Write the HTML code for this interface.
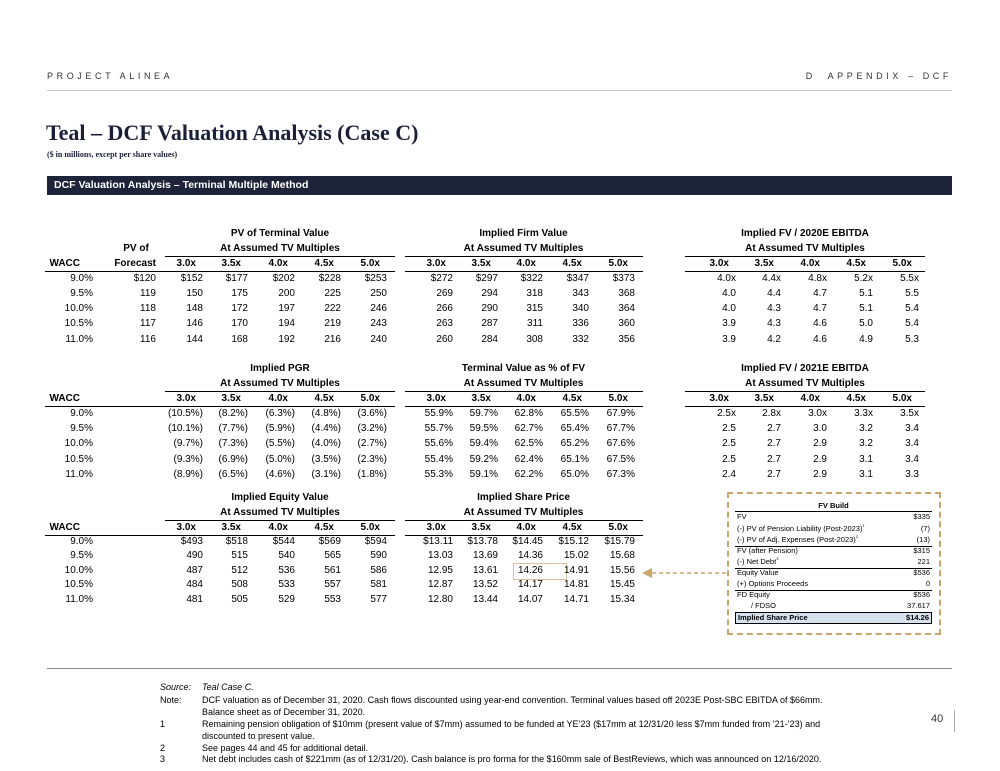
<!DOCTYPE html>
<html><head><meta charset="utf-8">
<style>
*{margin:0;padding:0;box-sizing:border-box}
body{width:1000px;height:771px;background:#fff;position:relative;overflow:hidden;font-family:"Liberation Sans",Arial,sans-serif;color:#000}
.abs{position:absolute}
.r{position:absolute;left:0;width:1000px;height:12px;font-size:10px;line-height:12px}
.r span{position:absolute;text-align:right;white-space:nowrap}
.h span{font-weight:bold;padding-right:7px}
.a{right:907px}.b{right:844px}
.c1{right:797px}.c2{right:752px}.c3{right:705px}.c4{right:659px}.c5{right:613px}
.d1{right:547px}.d2{right:502px}.d3{right:457px}.d4{right:411px}.d5{right:365px}
.e1{right:264px}.e2{right:219px}.e3{right:173px}.e4{right:127px}.e5{right:81px}
.t{position:absolute;font-size:10px;font-weight:bold;line-height:12px;text-align:center;white-space:nowrap}
.ln{position:absolute;height:1px;background:#000}
.fb{position:absolute;left:735px;width:197px;font-size:7.5px;line-height:10px;height:10px}
.fb i{font-style:normal;position:absolute;right:2px;top:0}
.fb b{font-weight:normal;position:absolute;left:2px;top:0;white-space:nowrap}
sup{font-size:4px;line-height:0;vertical-align:4px}
.nt{position:absolute;font-size:9px;line-height:11px;white-space:nowrap}
</style></head><body>
<div class="abs" style="left:47px;top:71px;font-size:9px;letter-spacing:3.6px;color:#333">PROJECT ALINEA</div>
<div class="abs" style="right:48px;top:71px;font-size:9px;letter-spacing:3.6px;color:#333">D&nbsp; APPENDIX – DCF</div>
<div class="abs" style="left:47px;top:90px;width:905px;height:1px;background:#c8c8c8"></div>
<div class="abs" style="left:46px;top:120px;font-family:'Liberation Serif',serif;font-weight:bold;font-size:22px;color:#1b2038">Teal – DCF Valuation Analysis (Case C)</div>
<div class="abs" style="left:47px;top:150px;font-family:'Liberation Serif',serif;font-weight:bold;font-size:8px;color:#1b2038">($ in millions, except per share values)</div>
<div class="abs" style="left:47px;top:176px;width:905px;height:19px;background:#1d2338;color:#fff;font-weight:bold;font-size:10.5px;line-height:19px;padding-left:7px">DCF Valuation Analysis – Terminal Multiple Method</div>

<!-- Section 1 -->
<div class="t" style="left:165px;width:230px;top:228px">PV of Terminal Value</div>
<div class="t" style="left:404px;width:239px;top:228px">Implied Firm Value</div>
<div class="t" style="left:685px;width:240px;top:228px">Implied FV / 2020E EBITDA</div>
<div class="t" style="left:116px;width:40px;top:243px">PV of</div>
<div class="t" style="left:165px;width:230px;top:243px">At Assumed TV Multiples</div>
<div class="t" style="left:404px;width:239px;top:243px">At Assumed TV Multiples</div>
<div class="t" style="left:685px;width:240px;top:243px">At Assumed TV Multiples</div>
<div class="ln" style="left:165px;width:230px;top:256px"></div>
<div class="ln" style="left:405px;width:238px;top:256px"></div>
<div class="ln" style="left:685px;width:240px;top:256px"></div>
<div class="r h" style="top:258px"><span style="right:913px">WACC</span><span class="b" style="padding-right:0">Forecast</span><span class="c1">3.0x</span><span class="c2">3.5x</span><span class="c3">4.0x</span><span class="c4">4.5x</span><span class="c5">5.0x</span><span class="d1">3.0x</span><span class="d2">3.5x</span><span class="d3">4.0x</span><span class="d4">4.5x</span><span class="d5">5.0x</span><span class="e1">3.0x</span><span class="e2">3.5x</span><span class="e3">4.0x</span><span class="e4">4.5x</span><span class="e5">5.0x</span></div>
<div class="ln" style="left:45px;width:350px;top:271px"></div>
<div class="ln" style="left:405px;width:238px;top:271px"></div>
<div class="ln" style="left:685px;width:240px;top:271px"></div>
<div class="r" style="top:273px"><span class="a">9.0%</span><span class="b">$120</span><span class="c1">$152</span><span class="c2">$177</span><span class="c3">$202</span><span class="c4">$228</span><span class="c5">$253</span><span class="d1">$272</span><span class="d2">$297</span><span class="d3">$322</span><span class="d4">$347</span><span class="d5">$373</span><span class="e1">4.0x</span><span class="e2">4.4x</span><span class="e3">4.8x</span><span class="e4">5.2x</span><span class="e5">5.5x</span></div>
<div class="r" style="top:288px"><span class="a">9.5%</span><span class="b">119</span><span class="c1">150</span><span class="c2">175</span><span class="c3">200</span><span class="c4">225</span><span class="c5">250</span><span class="d1">269</span><span class="d2">294</span><span class="d3">318</span><span class="d4">343</span><span class="d5">368</span><span class="e1">4.0</span><span class="e2">4.4</span><span class="e3">4.7</span><span class="e4">5.1</span><span class="e5">5.5</span></div>
<div class="r" style="top:303px"><span class="a">10.0%</span><span class="b">118</span><span class="c1">148</span><span class="c2">172</span><span class="c3">197</span><span class="c4">222</span><span class="c5">246</span><span class="d1">266</span><span class="d2">290</span><span class="d3">315</span><span class="d4">340</span><span class="d5">364</span><span class="e1">4.0</span><span class="e2">4.3</span><span class="e3">4.7</span><span class="e4">5.1</span><span class="e5">5.4</span></div>
<div class="r" style="top:318px"><span class="a">10.5%</span><span class="b">117</span><span class="c1">146</span><span class="c2">170</span><span class="c3">194</span><span class="c4">219</span><span class="c5">243</span><span class="d1">263</span><span class="d2">287</span><span class="d3">311</span><span class="d4">336</span><span class="d5">360</span><span class="e1">3.9</span><span class="e2">4.3</span><span class="e3">4.6</span><span class="e4">5.0</span><span class="e5">5.4</span></div>
<div class="r" style="top:334px"><span class="a">11.0%</span><span class="b">116</span><span class="c1">144</span><span class="c2">168</span><span class="c3">192</span><span class="c4">216</span><span class="c5">240</span><span class="d1">260</span><span class="d2">284</span><span class="d3">308</span><span class="d4">332</span><span class="d5">356</span><span class="e1">3.9</span><span class="e2">4.2</span><span class="e3">4.6</span><span class="e4">4.9</span><span class="e5">5.3</span></div>

<!-- Section 2 -->
<div class="t" style="left:165px;width:230px;top:363px">Implied PGR</div>
<div class="t" style="left:404px;width:239px;top:363px">Terminal Value as % of FV</div>
<div class="t" style="left:685px;width:240px;top:363px">Implied FV / 2021E EBITDA</div>
<div class="t" style="left:165px;width:230px;top:378px">At Assumed TV Multiples</div>
<div class="t" style="left:404px;width:239px;top:378px">At Assumed TV Multiples</div>
<div class="t" style="left:685px;width:240px;top:378px">At Assumed TV Multiples</div>
<div class="ln" style="left:165px;width:230px;top:391px"></div>
<div class="ln" style="left:405px;width:238px;top:391px"></div>
<div class="ln" style="left:685px;width:240px;top:391px"></div>
<div class="r h" style="top:393px"><span style="right:913px">WACC</span><span class="c1">3.0x</span><span class="c2">3.5x</span><span class="c3">4.0x</span><span class="c4">4.5x</span><span class="c5">5.0x</span><span class="d1">3.0x</span><span class="d2">3.5x</span><span class="d3">4.0x</span><span class="d4">4.5x</span><span class="d5">5.0x</span><span class="e1">3.0x</span><span class="e2">3.5x</span><span class="e3">4.0x</span><span class="e4">4.5x</span><span class="e5">5.0x</span></div>
<div class="ln" style="left:45px;width:350px;top:406px"></div>
<div class="ln" style="left:405px;width:238px;top:406px"></div>
<div class="ln" style="left:685px;width:240px;top:406px"></div>
<div class="r" style="top:408px"><span class="a">9.0%</span><span class="c1">(10.5%)</span><span class="c2">(8.2%)</span><span class="c3">(6.3%)</span><span class="c4">(4.8%)</span><span class="c5">(3.6%)</span><span class="d1">55.9%</span><span class="d2">59.7%</span><span class="d3">62.8%</span><span class="d4">65.5%</span><span class="d5">67.9%</span><span class="e1">2.5x</span><span class="e2">2.8x</span><span class="e3">3.0x</span><span class="e4">3.3x</span><span class="e5">3.5x</span></div>
<div class="r" style="top:423px"><span class="a">9.5%</span><span class="c1">(10.1%)</span><span class="c2">(7.7%)</span><span class="c3">(5.9%)</span><span class="c4">(4.4%)</span><span class="c5">(3.2%)</span><span class="d1">55.7%</span><span class="d2">59.5%</span><span class="d3">62.7%</span><span class="d4">65.4%</span><span class="d5">67.7%</span><span class="e1">2.5</span><span class="e2">2.7</span><span class="e3">3.0</span><span class="e4">3.2</span><span class="e5">3.4</span></div>
<div class="r" style="top:438px"><span class="a">10.0%</span><span class="c1">(9.7%)</span><span class="c2">(7.3%)</span><span class="c3">(5.5%)</span><span class="c4">(4.0%)</span><span class="c5">(2.7%)</span><span class="d1">55.6%</span><span class="d2">59.4%</span><span class="d3">62.5%</span><span class="d4">65.2%</span><span class="d5">67.6%</span><span class="e1">2.5</span><span class="e2">2.7</span><span class="e3">2.9</span><span class="e4">3.2</span><span class="e5">3.4</span></div>
<div class="r" style="top:454px"><span class="a">10.5%</span><span class="c1">(9.3%)</span><span class="c2">(6.9%)</span><span class="c3">(5.0%)</span><span class="c4">(3.5%)</span><span class="c5">(2.3%)</span><span class="d1">55.4%</span><span class="d2">59.2%</span><span class="d3">62.4%</span><span class="d4">65.1%</span><span class="d5">67.5%</span><span class="e1">2.5</span><span class="e2">2.7</span><span class="e3">2.9</span><span class="e4">3.1</span><span class="e5">3.4</span></div>
<div class="r" style="top:469px"><span class="a">11.0%</span><span class="c1">(8.9%)</span><span class="c2">(6.5%)</span><span class="c3">(4.6%)</span><span class="c4">(3.1%)</span><span class="c5">(1.8%)</span><span class="d1">55.3%</span><span class="d2">59.1%</span><span class="d3">62.2%</span><span class="d4">65.0%</span><span class="d5">67.3%</span><span class="e1">2.4</span><span class="e2">2.7</span><span class="e3">2.9</span><span class="e4">3.1</span><span class="e5">3.3</span></div>

<!-- Section 3 -->
<div class="t" style="left:165px;width:230px;top:492px">Implied Equity Value</div>
<div class="t" style="left:404px;width:239px;top:492px">Implied Share Price</div>
<div class="t" style="left:165px;width:230px;top:507px">At Assumed TV Multiples</div>
<div class="t" style="left:404px;width:239px;top:507px">At Assumed TV Multiples</div>
<div class="ln" style="left:165px;width:230px;top:520px"></div>
<div class="ln" style="left:405px;width:238px;top:520px"></div>
<div class="r h" style="top:522px"><span style="right:913px">WACC</span><span class="c1">3.0x</span><span class="c2">3.5x</span><span class="c3">4.0x</span><span class="c4">4.5x</span><span class="c5">5.0x</span><span class="d1">3.0x</span><span class="d2">3.5x</span><span class="d3">4.0x</span><span class="d4">4.5x</span><span class="d5">5.0x</span></div>
<div class="ln" style="left:45px;width:350px;top:535px"></div>
<div class="ln" style="left:405px;width:238px;top:535px"></div>
<div class="abs" style="left:513px;top:563px;width:54px;height:17px;border:1px solid #d8c49a"></div>
<div class="r" style="top:536px"><span class="a">9.0%</span><span class="c1">$493</span><span class="c2">$518</span><span class="c3">$544</span><span class="c4">$569</span><span class="c5">$594</span><span class="d1">$13.11</span><span class="d2">$13.78</span><span class="d3">$14.45</span><span class="d4">$15.12</span><span class="d5">$15.79</span></div>
<div class="r" style="top:550px"><span class="a">9.5%</span><span class="c1">490</span><span class="c2">515</span><span class="c3">540</span><span class="c4">565</span><span class="c5">590</span><span class="d1">13.03</span><span class="d2">13.69</span><span class="d3">14.36</span><span class="d4">15.02</span><span class="d5">15.68</span></div>
<div class="r" style="top:565px"><span class="a">10.0%</span><span class="c1">487</span><span class="c2">512</span><span class="c3">536</span><span class="c4">561</span><span class="c5">586</span><span class="d1">12.95</span><span class="d2">13.61</span><span class="d3">14.26</span><span class="d4">14.91</span><span class="d5">15.56</span></div>
<div class="r" style="top:579px"><span class="a">10.5%</span><span class="c1">484</span><span class="c2">508</span><span class="c3">533</span><span class="c4">557</span><span class="c5">581</span><span class="d1">12.87</span><span class="d2">13.52</span><span class="d3">14.17</span><span class="d4">14.81</span><span class="d5">15.45</span></div>
<div class="r" style="top:594px"><span class="a">11.0%</span><span class="c1">481</span><span class="c2">505</span><span class="c3">529</span><span class="c4">553</span><span class="c5">577</span><span class="d1">12.80</span><span class="d2">13.44</span><span class="d3">14.07</span><span class="d4">14.71</span><span class="d5">15.34</span></div>

<!-- arrow -->
<svg class="abs" style="left:640px;top:565px" width="90" height="16"><line x1="12" y1="8" x2="88" y2="8" stroke="#c9a66b" stroke-width="1.5" stroke-dasharray="4,3"/><polygon points="2,8 12,3 12,13" fill="#c9a66b"/></svg>

<!-- FV Build -->
<div class="abs" style="left:727px;top:492px;width:214px;height:143px;border:2px dashed #c9a66b"></div>
<div class="abs" style="left:735px;top:501px;width:197px;text-align:center;font-size:7.5px;font-weight:bold;line-height:10px">FV Build</div>
<div class="ln" style="left:735px;width:197px;top:511px"></div>
<div class="fb" style="top:512px"><b>FV</b><i>$335</i></div>
<div class="fb" style="top:524px"><b>(-) PV of Pension Liability (Post-2023)<sup>1</sup></b><i>(7)</i></div>
<div class="fb" style="top:535px"><b>(-) PV of Adj. Expenses (Post-2023)<sup>2</sup></b><i>(13)</i></div>
<div class="ln" style="left:735px;width:197px;top:546px"></div>
<div class="fb" style="top:546px"><b>FV (after Pension)</b><i>$315</i></div>
<div class="fb" style="top:557px"><b>(-) Net Debt<sup>3</sup></b><i>221</i></div>
<div class="ln" style="left:735px;width:197px;top:568px"></div>
<div class="fb" style="top:568px"><b>Equity Value</b><i>$536</i></div>
<div class="fb" style="top:579px"><b>(+) Options Proceeds</b><i>0</i></div>
<div class="ln" style="left:735px;width:197px;top:590px"></div>
<div class="fb" style="top:590px"><b>FD Equity</b><i>$536</i></div>
<div class="fb" style="top:601px"><b style="left:16px">/ FDSO</b><i>37.617</i></div>
<div class="abs" style="left:735px;top:612px;width:197px;height:12px;background:#d6e2ee;border:1px solid #000;font-size:7.5px;font-weight:bold;line-height:10px"><span style="position:absolute;left:2px">Implied Share Price</span><span style="position:absolute;right:2px">$14.26</span></div>

<!-- footer -->
<div class="abs" style="left:47px;top:668px;width:905px;height:1px;background:#888"></div>
<div class="nt" style="left:160px;top:682px;font-style:italic">Source:</div>
<div class="nt" style="left:202px;top:682px;font-style:italic">Teal Case C.</div>
<div class="nt" style="left:160px;top:695px">Note:</div>
<div class="nt" style="left:202px;top:695px">DCF valuation as of December 31, 2020. Cash flows discounted using year-end convention. Terminal values based off 2023E Post-SBC EBITDA of $66mm.</div>
<div class="nt" style="left:202px;top:707px">Balance sheet as of December 31, 2020.</div>
<div class="nt" style="left:160px;top:719px">1</div>
<div class="nt" style="left:202px;top:719px">Remaining pension obligation of $10mm (present value of $7mm) assumed to be funded at YE’23 ($17mm at 12/31/20 less $7mm funded from ’21-’23) and</div>
<div class="nt" style="left:202px;top:731px">discounted to present value.</div>
<div class="nt" style="left:160px;top:743px">2</div>
<div class="nt" style="left:202px;top:743px">See pages 44 and 45 for additional detail.</div>
<div class="nt" style="left:160px;top:754px">3</div>
<div class="nt" style="left:202px;top:754px">Net debt includes cash of $221mm (as of 12/31/20). Cash balance is pro forma for the $160mm sale of BestReviews, which was announced on 12/16/2020.</div>
<div class="abs" style="left:931px;top:713px;font-size:11px;color:#333">40</div>
<div class="abs" style="left:954px;top:710px;width:1px;height:22px;background:#aaa"></div>
</body></html>
